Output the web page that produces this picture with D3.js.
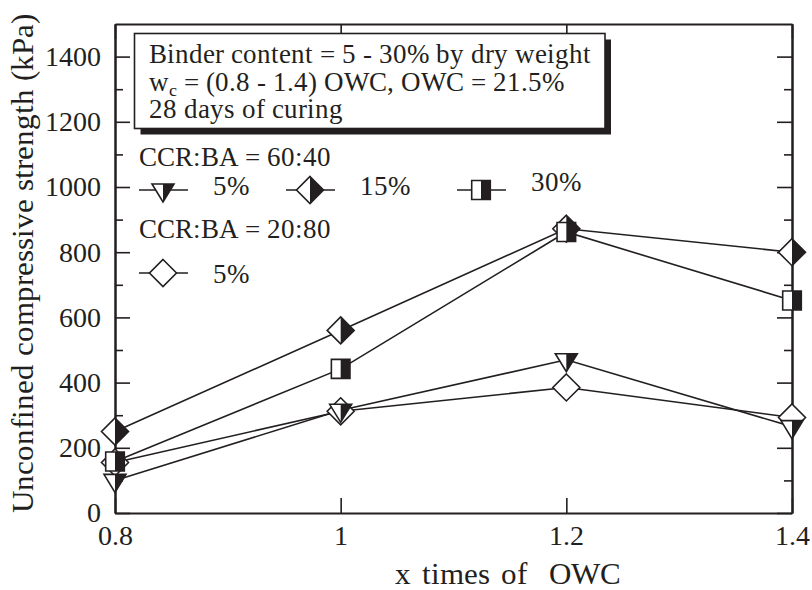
<!DOCTYPE html>
<html>
<head>
<meta charset="utf-8">
<script src="https://cdn.jsdelivr.net/npm/d3@7"></script>
<style>
  @font-face {
    font-family: "ChartSerif";
    src: local("Liberation Serif"), local("LiberationSerif"), local("LiberationSerif-Regular"), local("Tinos"), local("Tinos-Regular");
  }
  body { margin: 0; background: #fff; }
  svg { display: block; }
</style>
</head>
<body>
<svg id="chart" width="812" height="590"></svg>
<script>
// Water content as multiples of OWC
const owcRatio = [0.8, 1.0, 1.2, 1.4];

// Unconfined compressive strength (kPa), 28 days of curing
const ccr60Binder5  = [100, 315, 470, 265];
const ccr60Binder15 = [250, 560, 872, 800];
const ccr60Binder30 = [158, 442, 862, 652];
const ccr20Binder5  = [155, 312, 385, 293];

const yMajorTicks = [0, 200, 400, 600, 800, 1000, 1200, 1400];
const yMinorTicks = [100, 300, 500, 700, 900, 1100, 1300];
const xTickValues = [0.8, 1.0, 1.2, 1.4];
const xTickLabels = ["0.8", "1", "1.2", "1.4"];

const noteLines = [
  "Binder content = 5 - 30% by dry weight",
  " = (0.8 - 1.4) OWC, OWC = 21.5%",
  "28 days of curing"
];

const ink = "#231f20";
const face = "ChartSerif, Liberation Serif, Tinos, serif";

const svg = d3.select("#chart");
const margin = { left: 115, right: 20, top: 24, bottom: 77 };
const W = 812, H = 590;

const x = d3.scaleLinear().domain([0.8, 1.4]).range([margin.left, W - margin.right]);
const y = d3.scaleLinear().domain([0, 1500]).range([H - margin.bottom, margin.top]);

// Text helper: every label is set in the serif face
const addText = (parent, size) => parent.append("text")
  .attr("font-family", face).style("font-family", face)
  .attr("font-size", size).attr("fill", ink);

// Marker shapes: full outline and the filled right half, relative to the centre
const shapes = {
  triDown: {
    full: [[-11, -6], [11, -6], [0, 12]],
    half: [[0, -6], [11, -6], [0, 12]]
  },
  diamond: {
    full: [[0, -13.5], [13.5, 0], [0, 13.5], [-13.5, 0]],
    half: [[0, -13.5], [13.5, 0], [0, 13.5]]
  },
  square: {
    full: [[-9.3, -9.5], [9.3, -9.5], [9.3, 9.5], [-9.3, 9.5]],
    half: [[0, -9.5], [9.3, -9.5], [9.3, 9.5], [0, 9.5]]
  }
};

const series = [
  { label: "5%",  values: ccr20Binder5,  shape: "diamond", half: false },
  { label: "5%",  values: ccr60Binder5,  shape: "triDown", half: true },
  { label: "15%", values: ccr60Binder15, shape: "diamond", half: true },
  { label: "30%", values: ccr60Binder30, shape: "square",  half: true }
];

const poly = pts => "M" + pts.map(p => p.join(",")).join("L") + "Z";

function drawMarker(g, cx, cy, shape, half) {
  const s = shapes[shape];
  const m = g.append("g").attr("transform", `translate(${cx},${cy})`);
  m.append("path").attr("d", poly(s.full)).attr("fill", "#fff");
  if (half) m.append("path").attr("d", poly(s.half)).attr("fill", ink);
  m.append("path").attr("d", poly(s.full))
    .attr("fill", "none").attr("stroke", ink).attr("stroke-width", 1.6)
    .attr("stroke-linejoin", "miter");
}

// Axes: ticks point inward on all four sides
const axisStyle = g => {
  g.attr("font-family", face).attr("font-size", 28);
  g.selectAll(".domain").attr("stroke", ink).attr("stroke-width", 2);
  g.selectAll(".tick line").attr("stroke", ink).attr("stroke-width", 1.6);
  g.selectAll("text").attr("font-family", face).style("font-family", face)
    .attr("font-size", 28).attr("fill", ink);
};

svg.append("g").attr("transform", `translate(${margin.left},0)`)
  .call(d3.axisLeft(y).tickValues(yMinorTicks).tickSize(-8).tickSizeOuter(0).tickFormat(""))
  .call(axisStyle);
svg.append("g").attr("transform", `translate(${margin.left},0)`)
  .call(d3.axisLeft(y).tickValues(yMajorTicks).tickSize(-15).tickSizeOuter(0).tickPadding(14).tickFormat(d3.format("d")))
  .call(axisStyle);

svg.append("g").attr("transform", `translate(${W - margin.right},0)`)
  .call(d3.axisRight(y).tickValues(yMinorTicks).tickSize(-8).tickSizeOuter(0).tickFormat(""))
  .call(axisStyle);
svg.append("g").attr("transform", `translate(${W - margin.right},0)`)
  .call(d3.axisRight(y).tickValues(yMajorTicks).tickSize(-15).tickSizeOuter(0).tickFormat(""))
  .call(axisStyle);

svg.append("g").attr("transform", `translate(0,${H - margin.bottom})`)
  .call(d3.axisBottom(x).tickValues(xTickValues).tickSize(-15).tickSizeOuter(0).tickPadding(12)
    .tickFormat((d, i) => xTickLabels[i]))
  .call(axisStyle);
svg.append("g").attr("transform", `translate(0,${margin.top})`)
  .call(d3.axisTop(x).tickValues(xTickValues).tickSize(-15).tickSizeOuter(0).tickFormat(""))
  .call(axisStyle);

// Axis titles
addText(svg, 31)
  .attr("transform", `translate(33,${(margin.top + H - margin.bottom) / 2 - 5}) rotate(-90)`)
  .attr("text-anchor", "middle")
  .text("Unconfined compressive strength (kPa)");

addText(svg, 31)
  .attr("x", 508).attr("y", 584).attr("text-anchor", "middle")
  .attr("word-spacing", 3)
  .style("white-space", "pre")
  .text("x times of  OWC");

// Series lines and markers
const line = d3.line().x((d, i) => x(owcRatio[i])).y(d => y(d));
const plot = svg.append("g");
series.forEach(s => {
  plot.append("path").attr("d", line(s.values))
    .attr("fill", "none").attr("stroke", ink).attr("stroke-width", 1.6);
});
series.forEach(s => {
  s.values.forEach((v, i) => drawMarker(plot, x(owcRatio[i]), y(v), s.shape, s.half));
});

// Note box with drop shadow
const box = { x: 134.5, y: 33.5, w: 470.5, h: 95 };
svg.append("rect").attr("x", box.x + 6).attr("y", box.y + 6)
  .attr("width", box.w).attr("height", box.h).attr("fill", ink);
svg.append("rect").attr("x", box.x).attr("y", box.y)
  .attr("width", box.w).attr("height", box.h)
  .attr("fill", "#fff").attr("stroke", ink).attr("stroke-width", 1.6);

const noteFont = 27;
addText(svg, noteFont).attr("x", 149).attr("y", 63).text(noteLines[0]);
const wc = addText(svg, noteFont).attr("x", 149).attr("y", 91);
wc.append("tspan").text("w");
wc.append("tspan").attr("font-size", 18).attr("dy", 5).text("c");
wc.append("tspan").attr("dy", -5).text(noteLines[1]);
addText(svg, noteFont).attr("x", 149).attr("y", 118).text(noteLines[2]);

// Legend
const legendGroups = [
  { title: "CCR:BA = 60:40", titleY: 166, rowY: 190,
    items: [ { s: series[1], cx: 163, labelY: 195 },
             { s: series[2], cx: 310, labelY: 195 },
             { s: series[3], cx: 481, labelY: 191 } ] },
  { title: "CCR:BA = 20:80", titleY: 238, rowY: 273,
    items: [ { s: series[0], cx: 163, labelY: 283 } ] }
];
const leg = svg.append("g");
legendGroups.forEach(gp => {
  addText(leg, noteFont).attr("x", 139).attr("y", gp.titleY).text(gp.title);
  gp.items.forEach(it => {
    leg.append("line").attr("x1", it.cx - 24).attr("x2", it.cx + 25)
      .attr("y1", gp.rowY).attr("y2", gp.rowY)
      .attr("stroke", ink).attr("stroke-width", 1.6);
    drawMarker(leg, it.cx, gp.rowY, it.s.shape, it.s.half);
    addText(leg, noteFont).attr("x", it.cx + 50).attr("y", it.labelY).text(it.s.label);
  });
});
</script>
</body>
</html>
